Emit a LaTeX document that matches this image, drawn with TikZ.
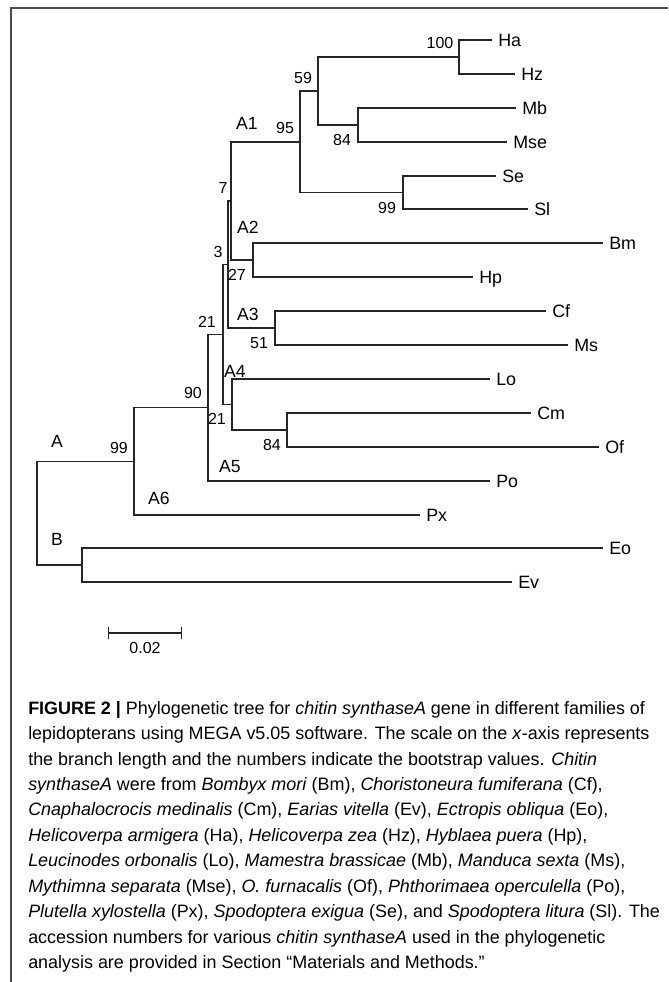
\documentclass[tikz,border=0pt]{standalone}
\usepackage{fontspec}
\setmainfont{Liberation Sans}
\usetikzlibrary{arrows.meta}

\begin{document}
\begin{tikzpicture}[x=0.75pt,y=-0.75pt,
  branch/.style={line width=1pt,black!85},
  leaf/.style={anchor=west,inner xsep=4.5pt,inner ysep=0pt,text height=9.6pt,text depth=0pt,font=\fontsize{13.4}{15}\selectfont},
  boot/.style={inner sep=0pt,font=\fontsize{12}{13}\selectfont},
  clade/.style={inner sep=0pt,font=\fontsize{13.2}{15}\selectfont},
  capline/.style={anchor=base west,inner sep=0pt,font=\fontsize{13.45}{16}\selectfont}]
\useasboundingbox (0,0) rectangle (668,982);
\draw[line width=1.3pt,black!70] (668,8) -- (11,8) -- (11,982);

\node[leaf] (Ha) at (492,40) {Ha};
\node[leaf] (Hz) at (515,74) {Hz};
\node[leaf] (Mb) at (516,108) {Mb};
\node[leaf] (Mse) at (507,142) {Mse};
\node[leaf] (Se) at (496,176) {Se};
\node[leaf] (Sl) at (528,209) {Sl};
\node[leaf] (Bm) at (603,243) {Bm};
\node[leaf] (Hp) at (473,277) {Hp};
\node[leaf] (Cf) at (546,311) {Cf};
\node[leaf] (Ms) at (568,345) {Ms};
\node[leaf] (Lo) at (490,379) {Lo};
\node[leaf] (Cm) at (531,413) {Cm};
\node[leaf] (Of) at (599,447) {Of};
\node[leaf] (Po) at (490,481) {Po};
\node[leaf] (Px) at (420,515) {Px};
\node[leaf] (Eo) at (603,548) {Eo};
\node[leaf] (Ev) at (512,582) {Ev};

\coordinate (n100) at (459,57);
\coordinate (n84a) at (358,125);
\coordinate (n59) at (318,91);
\coordinate (n99a) at (403,192.5);
\coordinate (n95) at (300,142);
\coordinate (n27) at (253,260);
\coordinate (n7) at (231,201);
\coordinate (n51) at (275,328);
\coordinate (n3) at (228,264.5);
\coordinate (n84b) at (287,430);
\coordinate (n21b) at (232,404.5);
\coordinate (n21a) at (223,334.5);
\coordinate (n90) at (208,407.7);
\coordinate (n99b) at (134,461.4);
\coordinate (nB) at (82,565);
\coordinate (root) at (37,513);

\draw[branch] (n100) |- (Ha.west);
\draw[branch] (n100) |- (Hz.west);
\draw[branch] (n84a) |- (Mb.west);
\draw[branch] (n84a) |- (Mse.west);
\draw[branch] (n59) |- (n100);
\draw[branch] (n59) |- (n84a);
\draw[branch] (n99a) |- (Se.west);
\draw[branch] (n99a) |- (Sl.west);
\draw[branch] (n95) |- (n59);
\draw[branch] (n95) |- (n99a);
\draw[branch] (n27) |- (Bm.west);
\draw[branch] (n27) |- (Hp.west);
\draw[branch] (n7) |- (n95);
\draw[branch] (n7) |- (n27);
\draw[branch] (n51) |- (Cf.west);
\draw[branch] (n51) |- (Ms.west);
\draw[branch] (n3) |- (n7);
\draw[branch] (n3) |- (n51);
\draw[branch] (n84b) |- (Cm.west);
\draw[branch] (n84b) |- (Of.west);
\draw[branch] (n21b) |- (Lo.west);
\draw[branch] (n21b) |- (n84b);
\draw[branch] (n21a) |- (n3);
\draw[branch] (n21a) |- (n21b);
\draw[branch] (n90) |- (n21a);
\draw[branch] (n90) |- (Po.west);
\draw[branch] (n99b) |- (n90);
\draw[branch] (n99b) |- (Px.west);
\draw[branch] (nB) |- (Eo.west);
\draw[branch] (nB) |- (Ev.west);
\draw[branch] (root) |- (n99b);
\draw[branch] (root) |- (nB);

\node[boot] (b100) at (440,43) {100};
\node[boot] (b59) at (303,78) {59};
\node[boot] (b84a) at (342,140) {84};
\node[boot] (b95) at (285,128) {95};
\node[boot] (b99a) at (387,208) {99};
\node[boot] (b7) at (223,188) {7};
\node[boot] (b3) at (218,252) {3};
\node[boot] (b27) at (237,275) {27};
\node[boot] (b51) at (259,343) {51};
\node[boot] (b21a) at (207,322) {21};
\node[boot] (b90) at (193,393) {90};
\node[boot] (b21b) at (217,419) {21};
\node[boot] (b84b) at (272,445) {84};
\node[boot] (b99b) at (119,448) {99};

\node[clade] (A1) at (247,123) {A1};
\node[clade] (A2) at (248,227) {A2};
\node[clade] (A3) at (248,314) {A3};
\node[clade] (A4) at (235,371) {A4};
\node[clade] (A5) at (230,467) {A5};
\node[clade] (A6) at (159,498) {A6};
\node[clade] (A) at (57,441) {A};
\node[clade] (B) at (57,539) {B};

\coordinate (sb1) at (108,633);
\coordinate (sb2) at (182,633);
\draw[branch,{Bar[width=9pt]}-{Bar[width=9pt]}] (sb1) -- (sb2);
\node[boot] (sbl) at (145,648) {0.02};

\node[capline] (c1) at (28,714) {\textbf{FIGURE 2 |} Phylogenetic tree for \textit{chitin synthaseA} gene in different families of};
\node[capline] (c2) at (28,739.5) {lepidopterans using MEGA v5.05 software. The scale on the \textit{x}-axis represents};
\node[capline] (c3) at (28,765) {the branch length and the numbers indicate the bootstrap values. \textit{Chitin}};
\node[capline] (c4) at (28,790.4) {\textit{synthaseA} were from \textit{Bombyx mori} (Bm), \textit{Choristoneura fumiferana} (Cf),};
\node[capline] (c5) at (28,815.8) {\textit{Cnaphalocrocis medinalis} (Cm), \textit{Earias vitella} (Ev), \textit{Ectropis obliqua} (Eo),};
\node[capline] (c6) at (28,841.3) {\textit{Helicoverpa armigera} (Ha), \textit{Helicoverpa zea} (Hz), \textit{Hyblaea puera} (Hp),};
\node[capline] (c7) at (28,866.7) {\textit{Leucinodes orbonalis} (Lo), \textit{Mamestra brassicae} (Mb), \textit{Manduca sexta} (Ms),};
\node[capline] (c8) at (28,892.2) {\textit{Mythimna separata} (Mse), \textit{O. furnacalis} (Of), \textit{Phthorimaea operculella} (Po),};
\node[capline] (c9) at (28,917.6) {\textit{Plutella xylostella} (Px), \textit{Spodoptera exigua} (Se), and \textit{Spodoptera litura} (Sl). The};
\node[capline] (c10) at (28,943) {accession numbers for various \textit{chitin synthaseA} used in the phylogenetic};
\node[capline] (c11) at (28,968.5) {analysis are provided in Section ``Materials and Methods.''};
\end{tikzpicture}
\end{document}
